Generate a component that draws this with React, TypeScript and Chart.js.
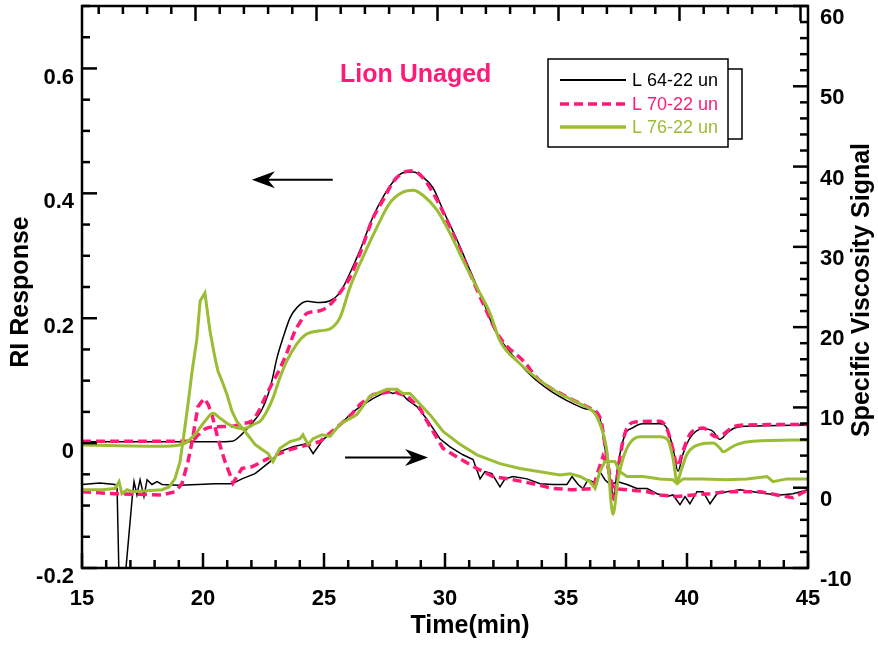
import { useEffect, useRef } from 'react';
import { Chart, registerables } from 'chart.js';

Chart.register(...registerables);

const FONT = 'Liberation Sans, Arial, Helvetica, sans-serif';
const PINK = '#ff1a78';
const GREEN = '#9bbd34';

// RI response (left axis), retention time in minutes
const ri64Time = [15, 18.4, 20.5, 21.2, 21.6, 22.0, 22.4, 22.7, 22.85, 23.06, 23.31, 23.6, 23.88, 24.3, 24.83, 25.25, 25.66, 26.07, 26.49, 27.02, 27.44, 27.85, 28.26, 28.68, 29.09, 29.5, 29.92, 30.5, 31.03, 31.57, 32.07, 32.98, 33.64, 34.34, 35.04, 35.7, 36.28, 36.4, 36.61, 36.9, 36.94, 37.15, 37.44, 37.73, 38.18, 38.88, 39.17, 39.42, 39.63, 39.83, 40.12, 40.66, 41.07, 41.36, 41.65, 41.9, 42.48, 45];
const ri64Value = [0.002, 0.002, 0.002, 0.003, 0.014, 0.031, 0.051, 0.079, 0.1, 0.137, 0.169, 0.201, 0.217, 0.227, 0.225, 0.228, 0.241, 0.272, 0.309, 0.362, 0.394, 0.418, 0.433, 0.434, 0.426, 0.409, 0.373, 0.325, 0.277, 0.228, 0.18, 0.132, 0.105, 0.084, 0.068, 0.056, 0.048, 0.04, -0.008, -0.077, -0.09, -0.034, 0.014, 0.024, 0.031, 0.031, 0.024, -0.008, -0.045, -0.018, 0.008, 0.023, 0.019, 0.006, 0.016, 0.023, 0.027, 0.029];

const ri70Time = [15, 19.5, 19.8, 20.1, 20.5, 21.2, 21.6, 22.0, 22.3, 22.55, 22.85, 23.2, 23.5, 23.75, 24.05, 24.3, 24.83, 25.2, 25.66, 26.07, 26.49, 27.02, 27.44, 27.85, 28.26, 28.68, 29.09, 29.5, 29.92, 30.5, 31.03, 31.57, 32.27, 33.3, 33.84, 35.04, 35.98, 36.3, 36.45, 36.65, 36.9, 36.98, 37.2, 37.44, 37.85, 38.88, 39.17, 39.42, 39.6, 39.83, 40.12, 40.66, 41.2, 41.5, 41.9, 42.5, 45];
const ri70Value = [0.003, 0.003, 0.013, 0.023, 0.026, 0.027, 0.031, 0.035, 0.051, 0.072, 0.095, 0.121, 0.148, 0.175, 0.196, 0.208, 0.212, 0.22, 0.241, 0.265, 0.304, 0.36, 0.389, 0.418, 0.433, 0.436, 0.425, 0.401, 0.37, 0.32, 0.272, 0.224, 0.169, 0.129, 0.103, 0.074, 0.056, 0.048, 0.035, -0.013, -0.077, -0.09, -0.029, 0.016, 0.034, 0.035, 0.023, -0.01, -0.037, -0.013, 0.014, 0.024, 0.01, 0.014, 0.026, 0.029, 0.03];

const ri76Time = [15, 18.4, 19.26, 19.67, 20.08, 20.41, 20.7, 21.2, 21.65, 22.15, 22.36, 22.64, 22.89, 23.18, 23.47, 23.88, 24.3, 24.83, 25.25, 25.66, 26.07, 26.61, 27.19, 27.73, 28.26, 28.68, 29.09, 29.67, 30.21, 30.74, 31.32, 31.86, 32.27, 33.1, 33.93, 34.75, 35.58, 36.2, 36.4, 36.69, 36.94, 37.15, 37.36, 37.64, 38.06, 38.88, 39.21, 39.42, 39.59, 39.79, 40.0, 40.54, 41.07, 41.36, 41.49, 41.78, 42.07, 42.73, 45];
const ri76Value = [-0.003, -0.005, 0.0, 0.014, 0.035, 0.048, 0.04, 0.027, 0.023, 0.031, 0.035, 0.051, 0.072, 0.105, 0.132, 0.159, 0.175, 0.18, 0.183, 0.201, 0.249, 0.298, 0.346, 0.385, 0.402, 0.405, 0.397, 0.373, 0.336, 0.293, 0.249, 0.208, 0.164, 0.127, 0.1, 0.079, 0.063, 0.047, 0.031, -0.013, -0.114, -0.058, -0.024, 0.0, 0.01, 0.01, 0.005, -0.024, -0.061, -0.04, -0.018, -0.002, 0.0, -0.008, -0.014, -0.008, -0.002, 0.003, 0.005];

// Specific viscosity signal (right axis)
const sv64Time = [15, 15.74, 16.36, 16.45, 16.55, 16.7, 17.07, 17.15, 17.27, 17.4, 17.56, 17.69, 17.89, 18.1, 18.31, 19.0, 19.79, 20.5, 21.2, 21.61, 22.15, 22.36, 22.77, 23.18, 23.72, 24.3, 24.55, 24.75, 24.96, 25.54, 26.07, 26.49, 27.02, 27.6, 27.85, 28.14, 28.43, 28.84, 29.26, 29.79, 30.21, 30.74, 31.16, 31.45, 31.65, 31.94, 32.27, 32.48, 32.81, 33.39, 33.93, 34.46, 35.04, 35.25, 35.5, 35.7, 35.91, 36.28, 36.4, 36.61, 36.82, 37.15, 37.52, 37.93, 38.35, 38.76, 39.17, 39.42, 39.71, 39.92, 40.12, 40.41, 40.66, 40.95, 41.24, 41.65, 42.19, 42.73, 43.31, 43.84, 44.38, 45];
const sv64Value = [0.4, 0.6, 0.4, -0.1, -14, -14, -1.4, 0.75, -0.9, 1.0, -1.1, 1.0, 0.4, 0.75, 0.4, 0.3, 0.4, 0.5, 0.5, 1.1, 1.75, 2.25, 3.25, 4.5, 5.1, 5.5, 4.25, 5.1, 6.0, 7.4, 9.1, 10.1, 11.1, 12.0, 11.75, 12.0, 11.0, 10.1, 8.5, 6.1, 5.1, 4.1, 3.5, 1.1, 2.0, 1.75, 0.1, 1.1, 1.4, 1.1, 0.5, 0.4, 0.4, 1.4, 0.4, -0.1, 1.0, 0.5, 2.0, 1.0, 0.4, 0.75, 0.4, -0.1, -0.1, -0.75, -1.1, -0.9, -2.1, -1.1, -2.0, -0.5, -0.5, -2.0, -0.75, -0.5, -0.25, -0.5, -0.75, -0.9, -0.75, -0.25];

const sv70Time = [15, 16.36, 18.31, 18.84, 18.97, 19.13, 19.38, 19.55, 19.79, 20.04, 20.21, 20.37, 20.62, 20.91, 21.12, 21.24, 21.61, 22.02, 22.44, 22.85, 23.6, 24.83, 26.07, 26.49, 27.02, 27.85, 28.43, 28.97, 29.26, 29.92, 30.62, 31.32, 31.98, 32.81, 33.64, 34.46, 35.29, 36.12, 36.32, 36.53, 36.74, 36.94, 37.52, 38.35, 38.88, 39.59, 40.25, 40.95, 41.65, 43.02, 43.72, 44.38, 44.79, 45];
const sv70Value = [-0.5, -0.75, -0.9, -0.5, -0.1, 0.5, 3.25, 5.75, 10.1, 11.1, 10.4, 9.1, 6.1, 3.25, 1.6, 0.6, 2.4, 2.6, 3.25, 3.9, 4.75, 5.75, 8.9, 10.4, 11.6, 12.0, 11.4, 9.9, 8.25, 4.9, 3.6, 2.4, 1.4, 1.0, 0.5, -0.1, -0.25, -0.1, 2.0, 3.9, 2.6, -0.1, -0.25, -0.5, -0.9, -1.1, -0.9, -0.75, -0.5, -0.5, -0.9, -1.25, -0.6, -0.25];

const sv76Time = [15, 15.83, 16.36, 16.53, 16.65, 16.86, 17.07, 18.31, 18.6, 18.84, 19.05, 19.21, 19.38, 19.55, 19.75, 19.88, 20.08, 20.29, 20.5, 20.62, 20.79, 20.99, 21.2, 21.4, 21.74, 22.15, 22.44, 22.69, 22.89, 23.18, 23.6, 24.01, 24.13, 24.34, 24.55, 24.92, 25.25, 25.66, 26.07, 26.36, 26.9, 27.6, 28.02, 28.26, 28.55, 28.97, 29.38, 29.92, 30.62, 31.32, 32.27, 33.1, 33.93, 34.75, 35.17, 35.58, 35.99, 36.2, 36.4, 36.61, 37.02, 37.23, 37.52, 38.18, 38.88, 39.42, 39.59, 39.83, 40.66, 41.65, 42.48, 43.31, 43.55, 44.13, 45];
const sv76Value = [-0.25, -0.25, -0.1, 0.75, -0.75, -0.25, -0.5, -0.25, 0.1, 1.1, 3.25, 6.6, 10.4, 14.5, 18.6, 23.25, 24.25, 19.5, 16.1, 14.5, 13.25, 11.6, 9.5, 8.25, 7.0, 5.4, 4.75, 4.25, 3.25, 4.9, 5.75, 6.1, 6.6, 5.4, 6.1, 6.6, 6.4, 7.9, 8.6, 9.1, 11.4, 12.25, 12.25, 11.75, 11.75, 10.4, 9.1, 7.0, 5.4, 4.1, 3.0, 2.4, 2.0, 1.6, 1.75, 1.4, 0.75, -0.1, 2.0, 3.25, 3.25, 2.0, 1.4, 1.4, 1.1, 1.0, 0.5, 1.1, 1.1, 1.0, 1.1, 1.4, 0.75, 1.1, 1.1];

const seriesNames = ['L 64-22 un', 'L 70-22 un', 'L 76-22 un'];
const timeTicks = { min: 15, max: 45, step: 5 };
const riTicks = { min: -0.2, max: 0.7, step: 0.2 };
const svTicks = { min: -10, max: 60, step: 10 };

const toPoints = (ts: number[], vs: number[]) => ts.map((t, i) => ({ x: t, y: vs[i] }));

function drawArrow(ctx: CanvasRenderingContext2D, x1: number, x2: number, y: number) {
  const dir = Math.sign(x2 - x1);
  ctx.beginPath();
  ctx.moveTo(x1, y);
  ctx.lineTo(x2 - dir * 12, y);
  ctx.lineWidth = 2;
  ctx.stroke();
  ctx.beginPath();
  ctx.moveTo(x2, y);
  ctx.lineTo(x2 - dir * 23, y - 8.5);
  ctx.lineTo(x2 - dir * 16, y);
  ctx.lineTo(x2 - dir * 23, y + 8.5);
  ctx.closePath();
  ctx.fill();
}

const frameAndNotes = {
  id: 'frameAndNotes',
  afterDraw(chart: any) {
    const { ctx, chartArea: a, scales } = chart;
    const xs = scales.x;
    const yl = scales.y;
    const yr = scales.y1;
    ctx.save();
    ctx.strokeStyle = '#000';
    ctx.fillStyle = '#000';
    ctx.lineCap = 'butt';
    const seg = (x1: number, y1: number, x2: number, y2: number) => {
      ctx.beginPath();
      ctx.moveTo(x1, y1);
      ctx.lineTo(x2, y2);
      ctx.stroke();
    };
    ctx.lineWidth = 2.5;
    // time ticks, bottom and top edges
    const topShift = -7.5;
    for (let t = timeTicks.min; t <= timeTicks.max; t++) {
      const px = xs.getPixelForValue(t);
      const len = t % 5 === 0 ? 15 : 8;
      seg(px, a.bottom, px, a.bottom - len);
      const pt = px + topShift;
      if (pt > a.left + 2) seg(pt, a.top, pt, a.top + len);
    }
    // RI ticks, left edge
    for (let i = 0; i <= 18; i++) {
      const v = riTicks.min + i * 0.05;
      const py = yl.getPixelForValue(v);
      seg(a.left, py, a.left + (i % 4 === 0 ? 15 : 8), py);
    }
    // viscosity ticks, right edge
    for (let s = svTicks.min; s <= svTicks.max; s += 2) {
      const py = yr.getPixelForValue(s);
      seg(a.right, py, a.right - (s % 10 === 0 ? 15 : 8), py);
    }
    ctx.lineWidth = 2.5;
    ctx.strokeRect(a.left, a.top, a.right - a.left, a.bottom - a.top);

    // direction arrows
    drawArrow(ctx, xs.getPixelForValue(25.36), xs.getPixelForValue(22.02), yl.getPixelForValue(0.4216));
    drawArrow(ctx, xs.getPixelForValue(25.87), xs.getPixelForValue(29.3), yr.getPixelForValue(3.75));

    // axis titles
    ctx.font = `bold 25px ${FONT}`;
    ctx.textAlign = 'center';
    ctx.textBaseline = 'middle';
    ctx.save();
    ctx.translate(21, 292);
    ctx.rotate(-Math.PI / 2);
    ctx.fillText('RI Response', 0, 0);
    ctx.restore();
    ctx.save();
    ctx.translate(862, 290);
    ctx.rotate(-Math.PI / 2);
    ctx.fillText('Specific Viscosity Signal', 0, 0);
    ctx.restore();
    ctx.textBaseline = 'alphabetic';
    ctx.fillText('Time(min)', 470, 633);

    // sample label
    ctx.fillStyle = PINK;
    ctx.textAlign = 'left';
    ctx.fillText('Lion Unaged', 340, 82);

    // legend
    ctx.lineWidth = 1.5;
    ctx.strokeStyle = '#000';
    ctx.beginPath();
    ctx.moveTo(728, 69);
    ctx.lineTo(742, 69);
    ctx.lineTo(742, 139);
    ctx.lineTo(728, 139);
    ctx.stroke();
    ctx.fillStyle = '#fff';
    ctx.fillRect(548, 59, 180, 88);
    ctx.strokeRect(548, 59, 180, 88);
    const rows = [
      { y: 80, color: '#000', width: 2, dash: [] as number[] },
      { y: 104, color: PINK, width: 3.5, dash: [9, 5] },
      { y: 127, color: GREEN, width: 3.5, dash: [] as number[] },
    ];
    ctx.font = `18px ${FONT}`;
    ctx.textBaseline = 'middle';
    rows.forEach((r, i) => {
      ctx.strokeStyle = r.color;
      ctx.lineWidth = r.width;
      ctx.setLineDash(r.dash);
      seg(560, r.y, 626, r.y);
      ctx.setLineDash([]);
      ctx.fillStyle = r.color;
      ctx.fillText(seriesNames[i], 632, r.y + 1);
    });
    ctx.restore();
  },
};

// keep the plot frame at fixed offsets regardless of label overhang
const noOverhang = (s: any) => {
  s.paddingTop = 0;
  s.paddingBottom = 0;
  s.paddingLeft = 0;
  s.paddingRight = 0;
};

export default function App() {
  const canvasRef = useRef<HTMLCanvasElement | null>(null);

  useEffect(() => {
    const canvas = canvasRef.current;
    if (!canvas) return;
    const tickFont = { family: FONT, size: 22, weight: 'bold' as const };
    const chart = new Chart(canvas, {
      type: 'line',
      data: {
        datasets: [
          { label: seriesNames[2], data: toPoints(ri76Time, ri76Value), yAxisID: 'y', borderColor: GREEN, borderWidth: 3, cubicInterpolationMode: 'monotone', order: 0 },
          { label: seriesNames[2], data: toPoints(sv76Time, sv76Value), yAxisID: 'y1', borderColor: GREEN, borderWidth: 3, tension: 0, order: 1 },
          { label: seriesNames[1], data: toPoints(ri70Time, ri70Value), yAxisID: 'y', borderColor: PINK, borderWidth: 3.5, borderDash: [9, 5], cubicInterpolationMode: 'monotone', order: 2 },
          { label: seriesNames[1], data: toPoints(sv70Time, sv70Value), yAxisID: 'y1', borderColor: PINK, borderWidth: 3.5, borderDash: [9, 5], tension: 0, order: 3 },
          { label: seriesNames[0], data: toPoints(ri64Time, ri64Value), yAxisID: 'y', borderColor: '#000', borderWidth: 1.5, cubicInterpolationMode: 'monotone', order: 4 },
          { label: seriesNames[0], data: toPoints(sv64Time, sv64Value), yAxisID: 'y1', borderColor: '#000', borderWidth: 1.5, tension: 0, order: 5 },
        ].map((d) => ({ ...d, pointRadius: 0, fill: false })) as any,
      },
      options: {
        responsive: false,
        animation: false,
        devicePixelRatio: 1,
        layout: { padding: { top: 6, left: 0, right: 0, bottom: 0 } },
        plugins: { legend: { display: false }, tooltip: { enabled: false }, title: { display: false } },
        scales: {
          x: {
            type: 'linear',
            position: 'bottom',
            min: timeTicks.min,
            max: timeTicks.max,
            grid: { display: false, drawTicks: false },
            border: { display: false },
            ticks: { stepSize: timeTicks.step, padding: 18, color: '#000', font: tickFont, maxRotation: 0, autoSkip: false },
            afterFit: (s: any) => { s.height = 77; noOverhang(s); },
          },
          y: {
            type: 'linear',
            position: 'left',
            min: riTicks.min,
            max: riTicks.max,
            grid: { display: false, drawTicks: false },
            border: { display: false },
            ticks: {
              stepSize: riTicks.step,
              includeBounds: false,
              padding: 8,
              labelOffset: 9,
              color: '#000',
              font: tickFont,
              callback: (v: any) => (Math.abs(v) < 1e-9 ? '0' : Number(v).toFixed(1)),
            },
            afterFit: (s: any) => { s.width = 82; noOverhang(s); },
          },
          y1: {
            type: 'linear',
            position: 'right',
            min: svTicks.min,
            max: svTicks.max,
            grid: { display: false, drawTicks: false },
            border: { display: false },
            ticks: { stepSize: svTicks.step, padding: 12, labelOffset: 12, color: '#000', font: tickFont },
            afterFit: (s: any) => { s.width = 70; noOverhang(s); },
          },
        },
      } as any,
      plugins: [frameAndNotes],
    });
    return () => chart.destroy();
  }, []);

  return (
    <div style={{ position: 'absolute', left: 0, top: 0, width: 878, height: 645, background: '#fff' }}>
      <canvas ref={canvasRef} width={878} height={645} />
    </div>
  );
}
